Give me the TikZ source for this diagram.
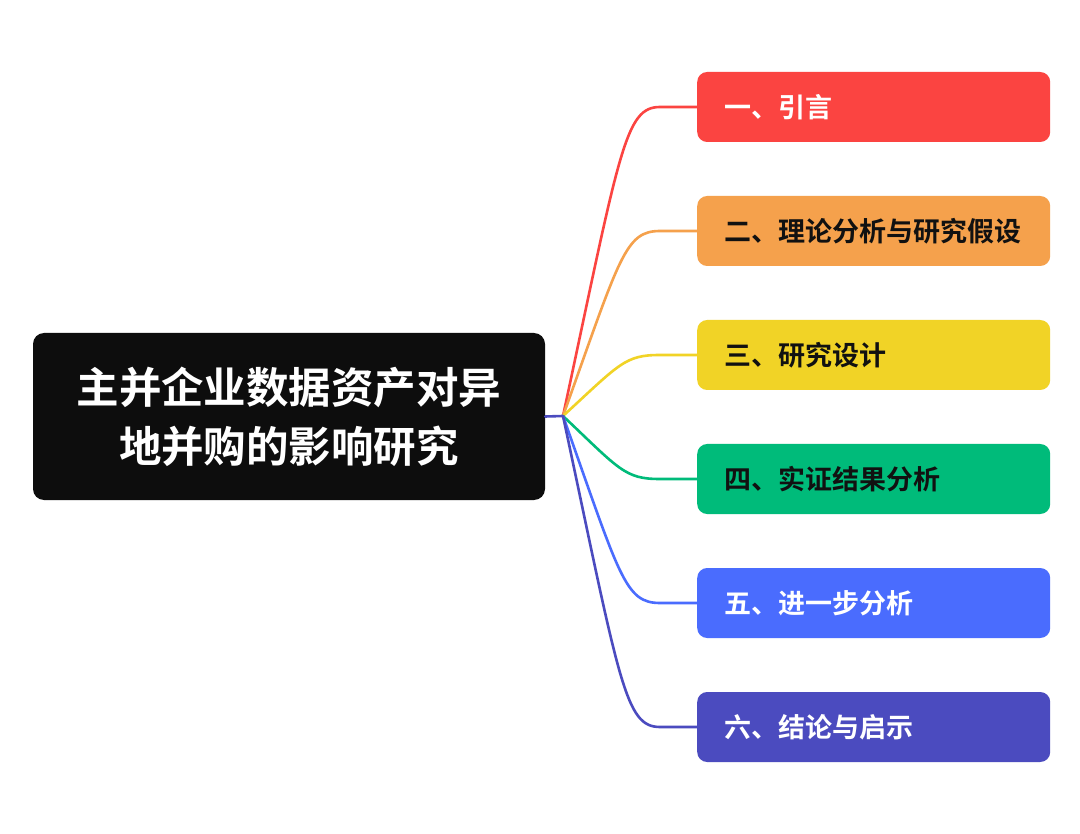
\documentclass[tikz,border=0pt]{standalone}
\usepackage{fontspec}
\newfontfamily\cjk{Noto Sans CJK SC}[BoldFont={Noto Sans CJK SC Bold}]
\definecolor{cred}{HTML}{FB4441}
\definecolor{corange}{HTML}{F5A14C}
\definecolor{cyellow}{HTML}{F1D326}
\definecolor{cgreen}{HTML}{00BB7A}
\definecolor{cblue}{HTML}{4A6CFE}
\definecolor{cpurple}{HTML}{4B4BBF}
\definecolor{croot}{HTML}{0D0D0D}
\definecolor{cdark}{HTML}{111111}
\tikzset{
  branchbox/.style={rounded corners=10pt, anchor=west, minimum height=70pt,
    inner xsep=27pt, text width=299pt, align=left,
    font=\cjk\bfseries\fontsize{27pt}{32pt}\selectfont},
  rootbox/.style={rounded corners=11pt, fill=croot, text=white,
    minimum width=512pt, minimum height=167pt, align=center,
    font=\cjk\bfseries\fontsize{42.5pt}{59pt}\selectfont},
  link/.style={line width=2.6pt, line cap=round}
}
\begin{document}
\begin{tikzpicture}[x=1pt,y=-1pt]
\useasboundingbox (0,0) rectangle (1080,834);
\fill[white] (0,0) rectangle (1080,834);
\node[rootbox] (root) at (289,416.5) {主并企业数据资产对异\\地并购的影响研究};
\coordinate (J) at (563,416);
\node[branchbox, fill=cred, text=white] (b1) at (697,107) {一、引言};
\node[branchbox, fill=corange, text=cdark] (b2) at (697,231) {二、理论分析与研究假设};
\node[branchbox, fill=cyellow, text=cdark] (b3) at (697,355) {三、研究设计};
\node[branchbox, fill=cgreen, text=cdark] (b4) at (697,479) {四、实证结果分析};
\node[branchbox, fill=cblue, text=white] (b5) at (697,603) {五、进一步分析};
\node[branchbox, fill=cpurple, text=white] (b6) at (697,727) {六、结论与启示};
\coordinate (e1) at (660,107);
\coordinate (e2) at (660,231);
\coordinate (e3) at (660,355);
\coordinate (e4) at (660,479);
\coordinate (e5) at (660,603);
\coordinate (e6) at (660,727);
\draw[link, cred] (J) .. controls (620,150) and (625,107) .. (e1) -- (b1.west);
\draw[link, corange] (J) .. controls (620,257) and (625,231) .. (e2) -- (b2.west);
\draw[link, cyellow] (J) .. controls (620,363.5) and (625,355) .. (e3) -- (b3.west);
\draw[link, cgreen] (J) .. controls (620,470) and (625,479) .. (e4) -- (b4.west);
\draw[link, cblue] (J) .. controls (620,577) and (625,603) .. (e5) -- (b5.west);
\draw[link, cpurple] (J) .. controls (620,683.5) and (625,727) .. (e6) -- (b6.west);
\draw[link, cpurple] (root.east) -- (J);
\end{tikzpicture}
\end{document}
